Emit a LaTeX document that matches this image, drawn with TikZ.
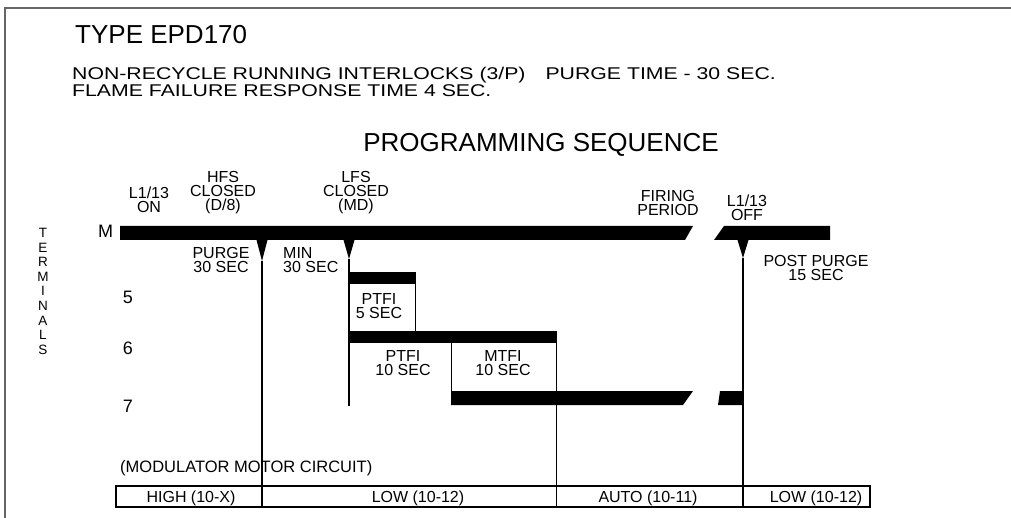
\documentclass[tikz,border=0pt]{standalone}
\usepackage{fontspec}
\setmainfont{Liberation Sans}
\newfontfamily\hdrfont[FakeStretch=1.25]{Liberation Sans}
\begin{document}
\begin{tikzpicture}[x=1pt,y=-1pt,
  lbl/.style={inner sep=0pt, align=center, font=\fontsize{16}{14}\selectfont},
  lbll/.style={inner sep=0pt, align=left, font=\fontsize{16}{14}\selectfont},
  term/.style={inner sep=0pt, font=\fontsize{18}{18}\selectfont},
  tabtxt/.style={inner sep=0pt, anchor=base, font=\fontsize{16}{16}\selectfont},
  bar/.style={fill=black},
  vline/.style={line width=1.1pt},
  wedge/.style={fill=black},
  frame/.style={line width=2pt, draw=black!60},
  tab/.style={line width=1.1pt}]
\useasboundingbox (0,0) rectangle (1011,518);
% frame
\draw[frame] (5,518) -- (5,8) -- (1011,8);
% header
\node[inner sep=0pt, anchor=north west, font=\fontsize{26}{26}\selectfont] (title) at (75,25) {TYPE EPD170};
\node[inner sep=0pt, anchor=north west, font=\hdrfont\fontsize{17}{17}\selectfont] (h1) at (72,67) {NON-RECYCLE RUNNING INTERLOCKS (3/P)\hspace{20pt}PURGE TIME - 30 SEC.};
\node[inner sep=0pt, anchor=north west, font=\hdrfont\fontsize{17}{17}\selectfont] (h2) at (72,84) {FLAME FAILURE RESPONSE TIME 4 SEC.};
\node[inner sep=0pt, anchor=north, font=\fontsize{26}{26}\selectfont] (seq) at (541,133) {PROGRAMMING SEQUENCE};
% terminals label
\node[inner sep=0pt, anchor=north, align=center, font=\fontsize{13.5}{14.6}\selectfont] (terms) at (43,228) {T\\E\\R\\M\\I\\N\\A\\L\\S};
\node[term, anchor=north west] (tM) at (98,225) {M};
\node[term] (t5) at (128,297.5) {5};
\node[term] (t6) at (128,348.5) {6};
\node[term] (t7) at (128,406.5) {7};
% event labels
\node[lbl, anchor=north] (on) at (149,187) {L1/13\\ON};
\node[lbl, anchor=north] (hfs) at (223,171) {HFS\\CLOSED\\(D/8)};
\node[lbl, anchor=north] (lfs) at (356,171) {LFS\\CLOSED\\(MD)};
\node[lbl, anchor=north] (fir) at (668,190) {FIRING\\PERIOD};
\node[lbl, anchor=north] (off) at (747,195) {L1/13\\OFF};
\node[lbl, anchor=north] (purge) at (221,247) {PURGE\\30 SEC};
\node[lbll, anchor=north west] (min) at (283,247) {MIN\\30 SEC};
\node[lbl, anchor=north] (post) at (816,255) {POST PURGE\\15 SEC};
\node[lbl, anchor=north] (ptfi5) at (379,293) {PTFI\\5 SEC};
\node[lbl, anchor=north] (ptfi10) at (403,350) {PTFI\\10 SEC};
\node[lbl, anchor=north] (mtfi) at (503,350) {MTFI\\10 SEC};
% M bar
\fill[bar] (120,226) -- (693,226) -- (685,240) -- (120,240) -- cycle;
\fill[bar] (724,226) -- (830,226) -- (830,240) -- (714,240) -- cycle;
% wedges and timing lines
\coordinate (w1) at (262,261);
\coordinate (w2) at (349,259);
\coordinate (w3) at (743,258);
\fill[wedge] (256.5,240) -- (267.5,240) -- (w1) -- cycle;
\fill[wedge] (343.5,240) -- (354.5,240) -- (w2) -- cycle;
\fill[wedge] (737.5,240) -- (748.5,240) -- (w3) -- cycle;
\coordinate (b1) at (262,507);
\coordinate (b2) at (349,406);
\coordinate (b3) at (743,507);
\draw[vline] (w1) -- (b1);
\draw[vline] (w2) -- (b2);
\draw[vline] (w3) -- (b3);
% terminal 5
\fill[bar] (349,272) rectangle (416,284);
\coordinate (a5) at (415.5,284);
\coordinate (a6) at (415.5,331);
\draw[vline] (a5) -- (a6);
% terminal 6
\fill[bar] (349,331) rectangle (557,343);
\coordinate (c6) at (556.5,343);
\coordinate (c7) at (556.5,507);
\draw[vline] (c6) -- (c7);
\coordinate (d6) at (451.5,343);
\coordinate (d7) at (451.5,391);
\draw[vline] (d6) -- (d7);
% terminal 7
\fill[bar] (451,391) -- (693,391) -- (683,405) -- (451,405) -- cycle;
\fill[bar] (720,391) -- (743,391) -- (743,405) -- (718,405) -- cycle;
% modulator table
\node[inner sep=0pt, anchor=base west, font=\fontsize{16.5}{16.5}\selectfont] (mod) at (120,472) {(MODULATOR MOTOR CIRCUIT)};
\draw[tab] (116,486) rectangle (870,507);
\node[tabtxt] (high) at (191,502) {HIGH (10-X)};
\node[tabtxt] (low1) at (418,502) {LOW (10-12)};
\node[tabtxt] (auto) at (648,502) {AUTO (10-11)};
\node[tabtxt] (low2) at (816,502) {LOW (10-12)};
\end{tikzpicture}
\end{document}
